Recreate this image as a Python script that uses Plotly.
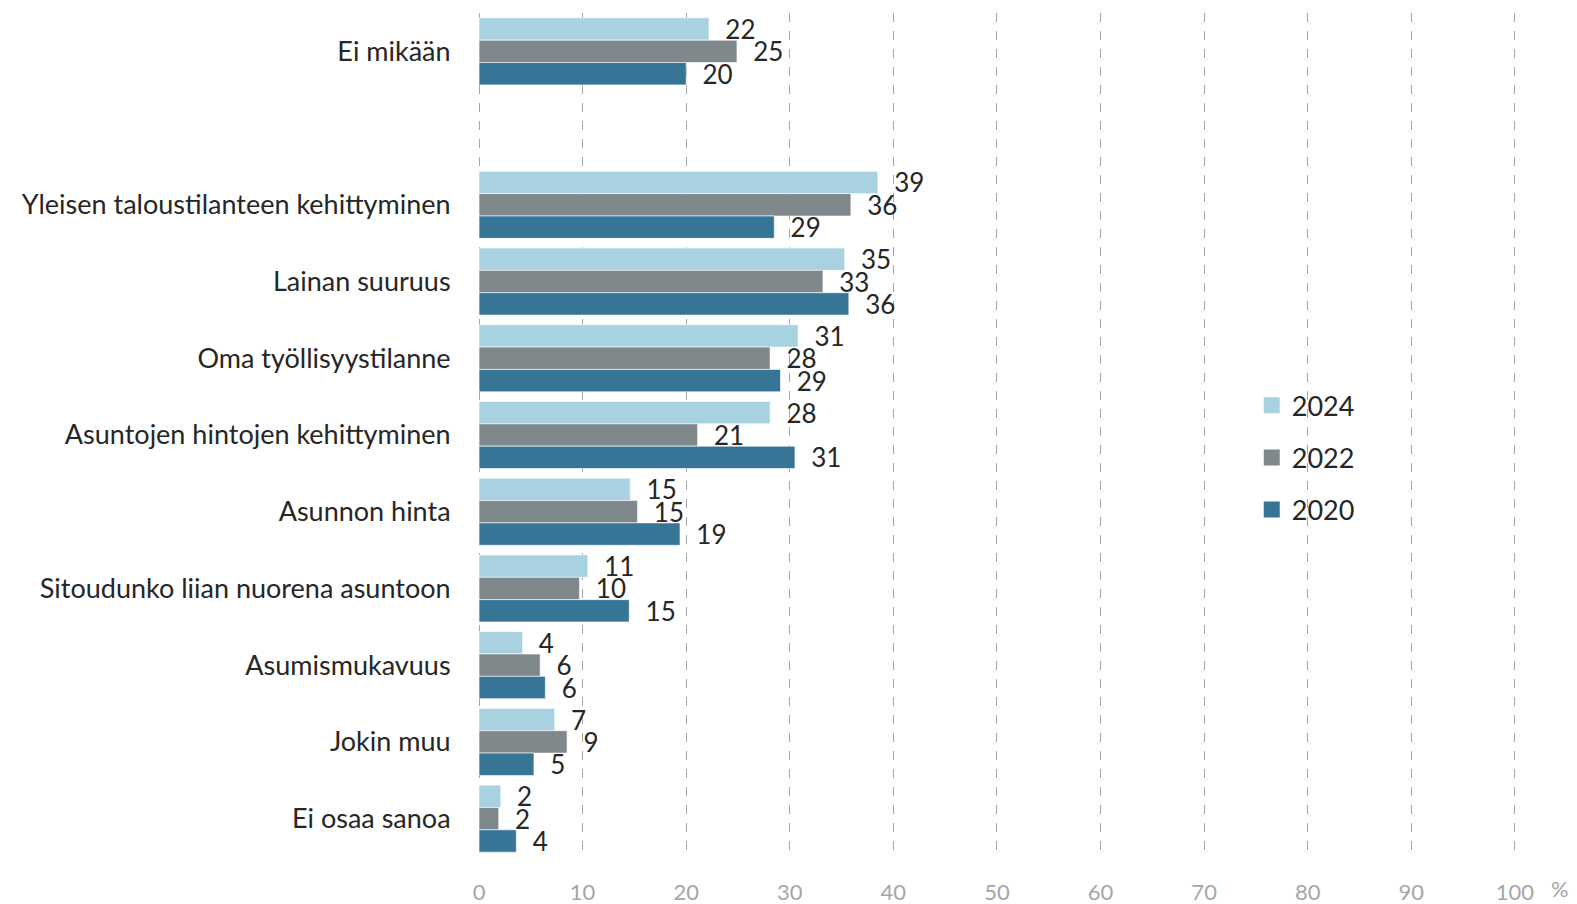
import plotly.graph_objects as go

categories = [
    "Ei mikään",
    " ",
    "Yleisen taloustilanteen kehittyminen",
    "Lainan suuruus",
    "Oma työllisyystilanne",
    "Asuntojen hintojen kehittyminen",
    "Asunnon hinta",
    "Sitoudunko liian nuorena asuntoon",
    "Asumismukavuus",
    "Jokin muu",
    "Ei osaa sanoa",
]

years = ["2024", "2022", "2020"]

values_2024 = [22.2, None, 38.5, 35.3, 30.8, 28.1, 14.6, 10.5, 4.2, 7.3, 2.1]
values_2022 = [24.9, None, 35.9, 33.2, 28.1, 21.1, 15.3, 9.7, 5.9, 8.5, 1.9]
values_2020 = [20.0, None, 28.5, 35.7, 29.1, 30.5, 19.4, 14.5, 6.4, 5.3, 3.6]

labels_2024 = [22, None, 39, 35, 31, 28, 15, 11, 4, 7, 2]
labels_2022 = [25, None, 36, 33, 28, 21, 15, 10, 6, 9, 2]
labels_2020 = [20, None, 29, 36, 29, 31, 19, 15, 6, 5, 4]

x_ticks = [0, 10, 20, 30, 40, 50, 60, 70, 80, 90, 100]

colors = {"2024": "#a8d2e0", "2022": "#7f888b", "2020": "#367596"}

series = {
    "2024": (values_2024, labels_2024),
    "2022": (values_2022, labels_2022),
    "2020": (values_2020, labels_2020),
}

FONT = "Lato"
TEXT_COLOR = "#262626"

fig = go.Figure()
for yr in years:
    vals, labs = series[yr]
    txt = ["" if l is None else "\u00a0\u00a0" + str(l) for l in labs]
    fig.add_trace(go.Bar(
        name=yr,
        y=categories,
        x=vals,
        orientation="h",
        marker=dict(color=colors[yr], line=dict(color="rgba(255,255,255,0.6)", width=1)),
        text=txt,
        textposition="outside",
        constraintext="none",
        cliponaxis=False,
        textfont=dict(family=FONT, size=26, color=TEXT_COLOR),
        showlegend=False,
        hoverinfo="x+y+name",
    ))

# legend entries with larger square swatches
for yr in years:
    fig.add_trace(go.Scatter(
        name=yr,
        x=[None], y=[None],
        mode="markers",
        marker=dict(symbol="square", size=20, color=colors[yr]),
        legendgroup=yr,
        showlegend=True,
        hoverinfo="skip",
    ))

fig.update_layout(
    width=1577,
    height=904,
    margin=dict(l=478, r=59, t=13, b=47, autoexpand=False),
    barmode="group",
    bargap=0.126,
    bargroupgap=0,
    plot_bgcolor="white",
    paper_bgcolor="white",
    font=dict(family=FONT, color=TEXT_COLOR),
    showlegend=True,
    legend=dict(
        x=0.744, y=0.473, xanchor="left", yanchor="middle",
        font=dict(family=FONT, size=27, color=TEXT_COLOR),
        tracegroupgap=14,
        itemsizing="trace",
        bgcolor="rgba(0,0,0,0)",
    ),
)

fig.update_xaxes(
    range=[-0.1, 100.3],
    tickvals=x_ticks,
    ticktext=[str(v) for v in x_ticks],
    showgrid=True,
    gridcolor="#a6a6a6",
    griddash="dash",
    gridwidth=1,
    zeroline=False,
    showline=False,
    ticks="outside",
    ticklen=16,
    tickcolor="rgba(0,0,0,0)",
    tickfont=dict(family=FONT, size=22, color="#a6a6a6"),
    automargin=False,
    fixedrange=True,
)

fig.update_yaxes(
    categoryorder="array",
    categoryarray=categories,
    autorange="reversed",
    showgrid=False,
    zeroline=False,
    showline=False,
    ticks="outside",
    ticklen=21,
    tickcolor="rgba(0,0,0,0)",
    tickfont=dict(family=FONT, size=27, color=TEXT_COLOR),
    automargin=False,
    fixedrange=True,
)

fig.add_annotation(
    text="%", xref="paper", yref="paper", x=1.0, y=0, xshift=42, yshift=-31,
    showarrow=False, font=dict(family=FONT, size=22, color="#a6a6a6"),
    xanchor="center", yanchor="middle",
)

fig.write_html(
    "out.html",
    config={"displayModeBar": False},
    post_script="document.body.style.margin='0';document.body.style.overflow='hidden';",
)
